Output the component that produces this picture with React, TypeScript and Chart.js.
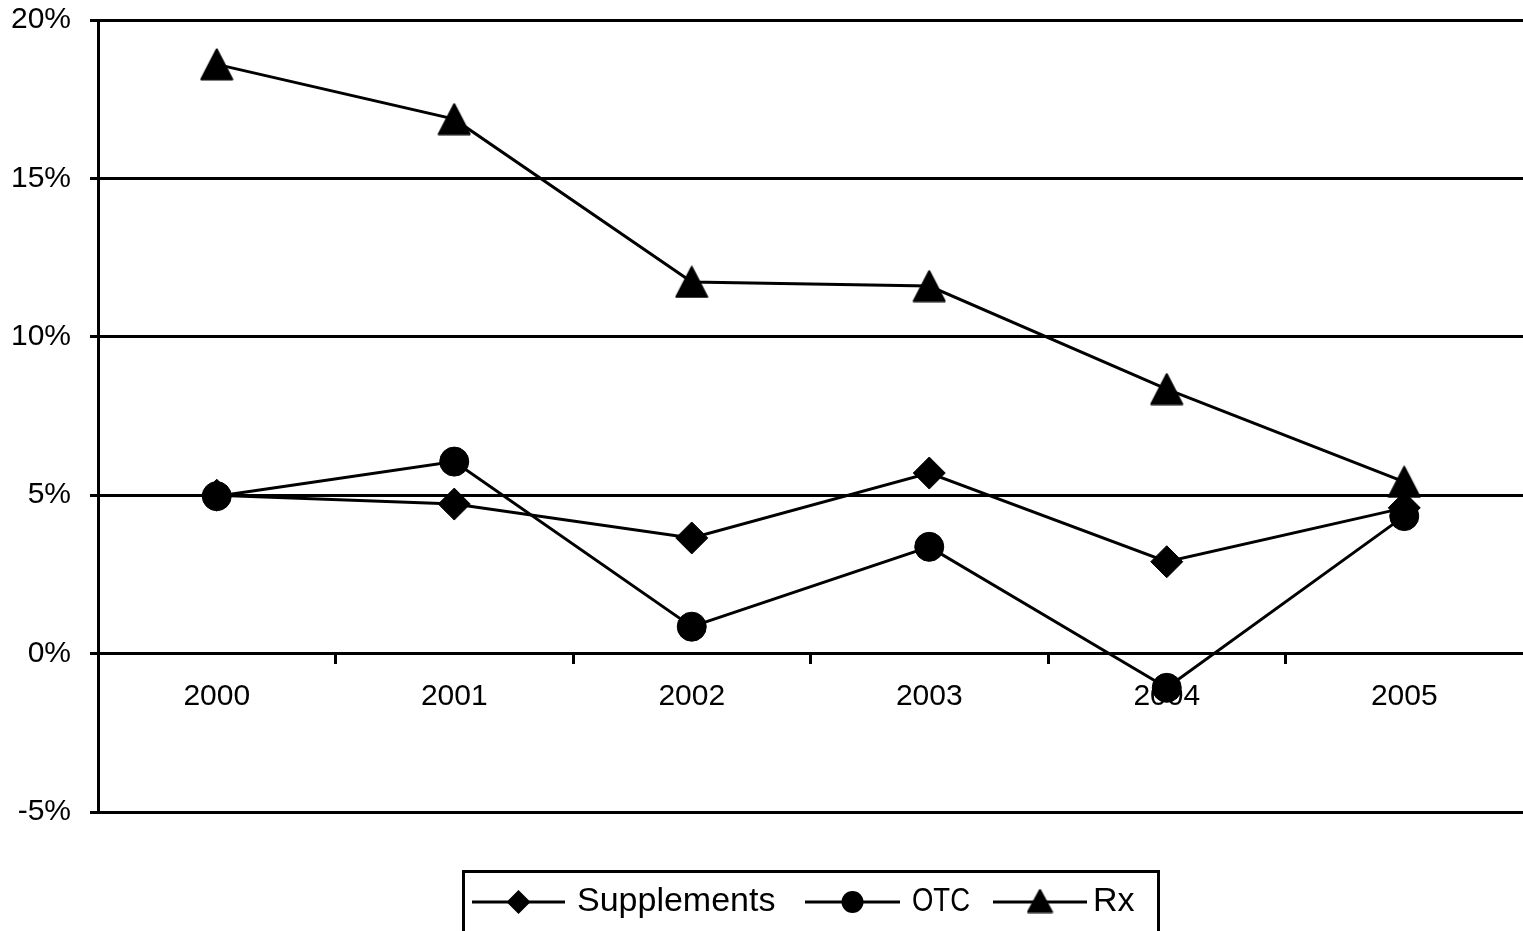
import { useEffect, useRef } from 'react';
import { Chart, registerables } from 'chart.js';

Chart.register(...registerables);

const years = ['2000', '2001', '2002', '2003', '2004', '2005'];
const seriesNames = ['Supplements', 'OTC', 'Rx'];
const supplements = [5.0, 4.72, 3.65, 5.7, 2.9, 4.6];
const otc = [4.97, 6.06, 0.85, 3.37, -1.08, 4.34];
const rx = [18.6, 16.87, 11.73, 11.6, 8.35, 5.42];
const yTickValues = [-5, 0, 5, 10, 15, 20];

const FONT = '"Liberation Sans", Arial, sans-serif';

function makeTriangle(w: number, h: number): HTMLCanvasElement {
  const c = document.createElement('canvas');
  c.width = w;
  c.height = h;
  const g = c.getContext('2d')!;
  g.fillStyle = '#000';
  g.strokeStyle = '#000';
  g.lineWidth = 2;
  g.lineJoin = 'round';
  g.beginPath();
  g.moveTo(w / 2, 1.5);
  g.lineTo(w - 1.5, h - 1.5);
  g.lineTo(1.5, h - 1.5);
  g.closePath();
  g.fill();
  g.stroke();
  return c;
}

const legendItems = [
  { lineX: 472, lineEnd: 565, textX: 577, maxW: 200 },
  { lineX: 805, lineEnd: 900, textX: 912, maxW: 58 },
  { lineX: 993, lineEnd: 1087, textX: 1093, maxW: 60 },
];

export default function App() {
  const ref = useRef<HTMLCanvasElement | null>(null);

  useEffect(() => {
    document.body.style.margin = '0';
    const canvas = ref.current!;
    const bigTri = makeTriangle(34, 33);
    const smallTri = makeTriangle(27, 25);

    const legendPlugin = {
      id: 'boxLegend',
      afterDraw(chart: any) {
        const ctx = chart.ctx as CanvasRenderingContext2D;
        ctx.save();
        ctx.strokeStyle = '#000';
        ctx.lineWidth = 3;
        ctx.strokeRect(463.5, 871.5, 695, 100);
        const y = 902;
        ctx.font = `34px ${FONT}`;
        ctx.fillStyle = '#000';
        ctx.textBaseline = 'alphabetic';
        chart.data.datasets.forEach((ds: any, i: number) => {
          const it = legendItems[i];
          ctx.lineWidth = 3;
          ctx.beginPath();
          ctx.moveTo(it.lineX, y);
          ctx.lineTo(it.lineEnd, y);
          ctx.stroke();
          const cx = (it.lineX + it.lineEnd) / 2;
          ctx.beginPath();
          if (i === 0) {
            const r = 12;
            ctx.moveTo(cx - r, y);
            ctx.lineTo(cx, y - r);
            ctx.lineTo(cx + r, y);
            ctx.lineTo(cx, y + r);
            ctx.closePath();
            ctx.fill();
          } else if (i === 1) {
            ctx.arc(cx, y, 11, 0, Math.PI * 2);
            ctx.fill();
          } else {
            ctx.drawImage(smallTri, cx - smallTri.width / 2, y - smallTri.height / 2 - 1);
          }
          ctx.fillText(ds.label, it.textX, 911, it.maxW);
        });
        ctx.restore();
      },
    };

    const common = {
      borderColor: '#000',
      backgroundColor: '#000',
      pointBackgroundColor: '#000',
      pointBorderColor: '#000',
      borderWidth: 3,
      pointBorderWidth: 1,
      tension: 0,
      fill: false,
    };

    const chart = new Chart(canvas, {
      type: 'line',
      data: {
        labels: years,
        datasets: [
          { ...common, label: seriesNames[0], data: supplements, pointStyle: 'rectRot', pointRadius: 16, pointHoverRadius: 16 },
          { ...common, label: seriesNames[1], data: otc, pointStyle: 'circle', pointRadius: 14.5, pointHoverRadius: 14.5 },
          { ...common, label: seriesNames[2], data: rx, pointStyle: bigTri, pointRadius: 17, pointHoverRadius: 17 },
        ],
      },
      options: {
        responsive: false,
        animation: false,
        devicePixelRatio: 1,
        layout: { autoPadding: false, padding: { top: 20, left: 0, right: 0, bottom: 931 - 812 } },
        plugins: {
          legend: { display: false },
          tooltip: { enabled: false },
          title: { display: false },
        },
        scales: {
          x: {
            type: 'category',
            position: { y: 0 } as any,
            offset: true,
            grid: {
              offset: true,
              drawOnChartArea: false,
              drawTicks: true,
              tickLength: 9,
              lineWidth: 3,
              color: (c: any) =>
                c.index === undefined || c.index === 0 || c.index >= years.length ? 'rgba(0,0,0,0)' : '#000',
            },
            border: { display: true, color: '#000', width: 3 },
            ticks: {
              color: '#000',
              font: { family: FONT, size: 30 },
              padding: 16,
              maxRotation: 0,
              autoSkip: false,
            },
          },
          y: {
            type: 'linear',
            min: yTickValues[0],
            max: yTickValues[yTickValues.length - 1],
            afterBuildTicks: (scale: any) => {
              scale.ticks = yTickValues.map((v) => ({ value: v }));
            },
            afterFit: (scale: any) => {
              scale.width = 98;
              scale.paddingTop = 0;
              scale.paddingBottom = 0;
            },
            grid: {
              color: '#000',
              lineWidth: 3,
              drawTicks: true,
              tickLength: 8,
            },
            border: { display: true, color: '#000', width: 3 },
            ticks: {
              color: '#000',
              font: { family: FONT, size: 30 },
              padding: 19,
              callback: (v: any) => `${v}%`,
            },
          },
        },
      },
      plugins: [legendPlugin],
    });

    return () => chart.destroy();
  }, []);

  return (
    <div style={{ width: 1523, height: 931 }}>
      <canvas ref={ref} width={1523} height={931} style={{ display: 'block' }} />
    </div>
  );
}
